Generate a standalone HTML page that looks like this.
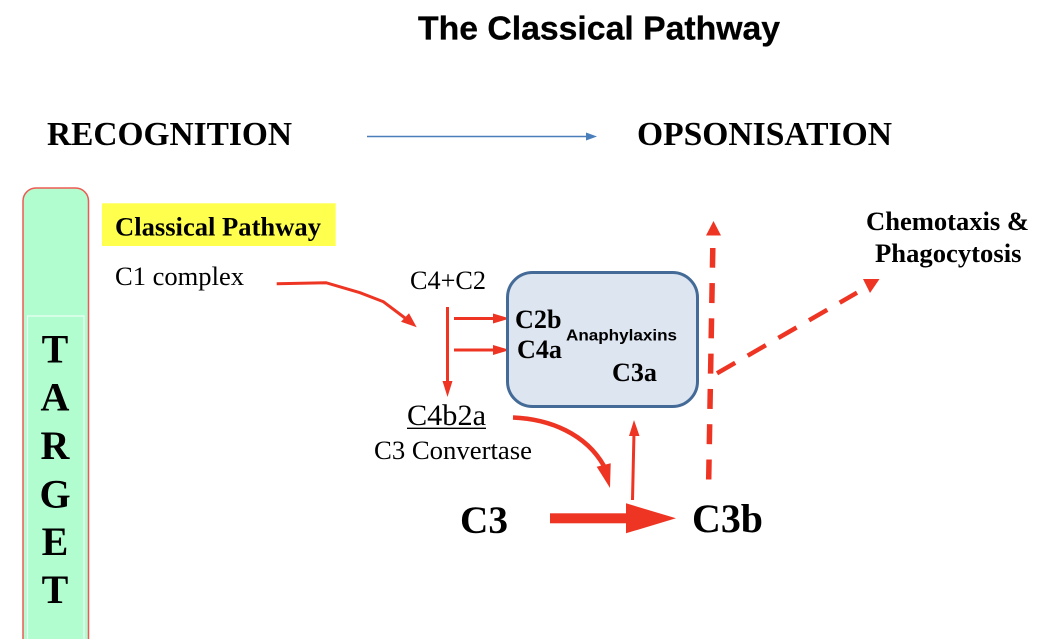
<!DOCTYPE html>
<html>
<head>
<meta charset="utf-8">
<style>
html,body{margin:0;padding:0;background:#fff;width:1037px;height:639px;overflow:hidden}
svg{display:block}
.s{font-family:"Liberation Serif",serif}
.b{font-family:"Liberation Serif",serif;font-weight:bold}
.a{font-family:"Liberation Sans",sans-serif;font-weight:bold}
</style>
</head>
<body>
<svg width="1037" height="639" viewBox="0 0 1037 639" xmlns="http://www.w3.org/2000/svg">
<rect width="1037" height="639" fill="#fff"/>

<text class="a" x="418" y="39.300" font-size="33.500" textLength="362" lengthAdjust="spacingAndGlyphs" fill="#000" stroke="#000" stroke-width="0.300">The Classical Pathway</text>

<text class="b" x="47" y="145" font-size="33.400" textLength="245" lengthAdjust="spacingAndGlyphs">RECOGNITION</text>
<text class="b" x="637" y="145" font-size="33.300" textLength="255" lengthAdjust="spacingAndGlyphs">OPSONISATION</text>
<line x1="367" y1="136.500" x2="588" y2="136.500" stroke="#4a7ebb" stroke-width="1.500"/>
<polygon points="597,136.500 586,132.500 586,140.500" fill="#4a7ebb"/>

<!-- target column -->
<rect x="23" y="188" width="65.500" height="470" rx="13" ry="13" fill="#b1fdcf" stroke="#ee5a52" stroke-width="1.500"/>
<rect x="27.500" y="316" width="56.500" height="340" fill="#b1fdcf" stroke="#effff5" stroke-width="1.200"/>
<g font-size="40" text-anchor="middle" style="font-family:'Liberation Serif',serif;font-weight:bold">
<text x="55" y="362.500">T</text>
<text x="55" y="410.500">A</text>
<text x="55" y="459">R</text>
<text x="55" y="507.500">G</text>
<text x="55" y="555">E</text>
<text x="55" y="603">T</text>
</g>

<!-- classical pathway label -->
<rect x="102" y="203.300" width="233.700" height="42.700" fill="#ffff4d"/>
<text class="b" x="115" y="235.500" font-size="26.600" textLength="206" lengthAdjust="spacingAndGlyphs">Classical Pathway</text>
<text class="s" x="115" y="285" font-size="26.500" textLength="129" lengthAdjust="spacingAndGlyphs">C1 complex</text>

<!-- C1 arrow -->
<path d="M276.700,283.700 L326,282.700 L360,292.700 L383.300,301.700 L405,318" fill="none" stroke="#ee3524" stroke-width="3"/>
<polygon points="416.700,327.300 401,321.700 409,313.300" fill="#ee3524"/>

<text class="s" x="410" y="289" font-size="26.500" textLength="76" lengthAdjust="spacingAndGlyphs">C4+C2</text>

<!-- C4+C2 arrows -->
<line x1="447.500" y1="307" x2="447.500" y2="388" stroke="#ee3524" stroke-width="3"/>
<polygon points="447.500,397 442.500,381 452.500,381" fill="#ee3524"/>
<line x1="454" y1="318.500" x2="498" y2="318.500" stroke="#ee3524" stroke-width="3"/>
<polygon points="510,318.500 493,313.500 493,323.500" fill="#ee3524"/>
<line x1="454" y1="350" x2="498" y2="350" stroke="#ee3524" stroke-width="3"/>
<polygon points="510,350 493,345 493,355" fill="#ee3524"/>

<!-- blue box -->
<rect x="507.500" y="272.500" width="190" height="134" rx="25" ry="25" fill="#dde5f1" stroke="#446a97" stroke-width="3"/>
<text class="b" x="515" y="328" font-size="26.500" textLength="46.500" lengthAdjust="spacingAndGlyphs">C2b</text>
<text class="b" x="517" y="358" font-size="26.500" textLength="45" lengthAdjust="spacingAndGlyphs">C4a</text>
<text class="a" x="566" y="340.700" font-size="16" textLength="111" lengthAdjust="spacingAndGlyphs">Anaphylaxins</text>
<text class="b" x="612" y="381" font-size="26.500" textLength="45" lengthAdjust="spacingAndGlyphs">C3a</text>

<!-- C4b2a -->
<text class="s" x="407" y="425" font-size="30" textLength="79" lengthAdjust="spacingAndGlyphs">C4b2a</text>
<line x1="407" y1="428.300" x2="486" y2="428.300" stroke="#000" stroke-width="1.300"/>
<text class="s" x="374" y="459" font-size="26.700" textLength="158" lengthAdjust="spacingAndGlyphs">C3 Convertase</text>

<!-- curve -->
<path d="M513,417.500 C550,419 586,434 604,466" fill="none" stroke="#ee3524" stroke-width="4.500"/>
<polygon points="610,488 596.700,466.700 610.700,463.300" fill="#ee3524"/>

<!-- C3 -->
<text class="b" x="460" y="533" font-size="39.500" textLength="48" lengthAdjust="spacingAndGlyphs">C3</text>
<text class="b" x="692" y="532" font-size="40" textLength="71" lengthAdjust="spacingAndGlyphs">C3b</text>
<rect x="550" y="513.300" width="78" height="10" fill="#ee3524"/>
<polygon points="676,518.300 626,503.300 626,533.300" fill="#ee3524"/>

<!-- up arrow to box -->
<line x1="632.500" y1="500" x2="634" y2="432" stroke="#ee3524" stroke-width="3"/>
<polygon points="634,420 629,436 639.500,436" fill="#ee3524"/>

<!-- dashed vertical -->
<line x1="708.700" y1="479.500" x2="712.800" y2="248" stroke="#ee3524" stroke-width="5.500" stroke-dasharray="20 15.300"/>
<polygon points="713.500,221 706,235.500 721,235.500" fill="#ee3524"/>

<!-- dashed diagonal -->
<line x1="717" y1="373.300" x2="857" y2="292.700" stroke="#ee3524" stroke-width="4.500" stroke-dasharray="21 14.400"/>
<polygon points="870,293 863,279 879.500,279" fill="#ee3524"/>

<text class="b" x="866" y="230" font-size="26.600" textLength="163" lengthAdjust="spacing">Chemotaxis &amp;</text>
<text class="b" x="875" y="262" font-size="26.600" textLength="146.500" lengthAdjust="spacing">Phagocytosis</text>
</svg>
</body>
</html>
